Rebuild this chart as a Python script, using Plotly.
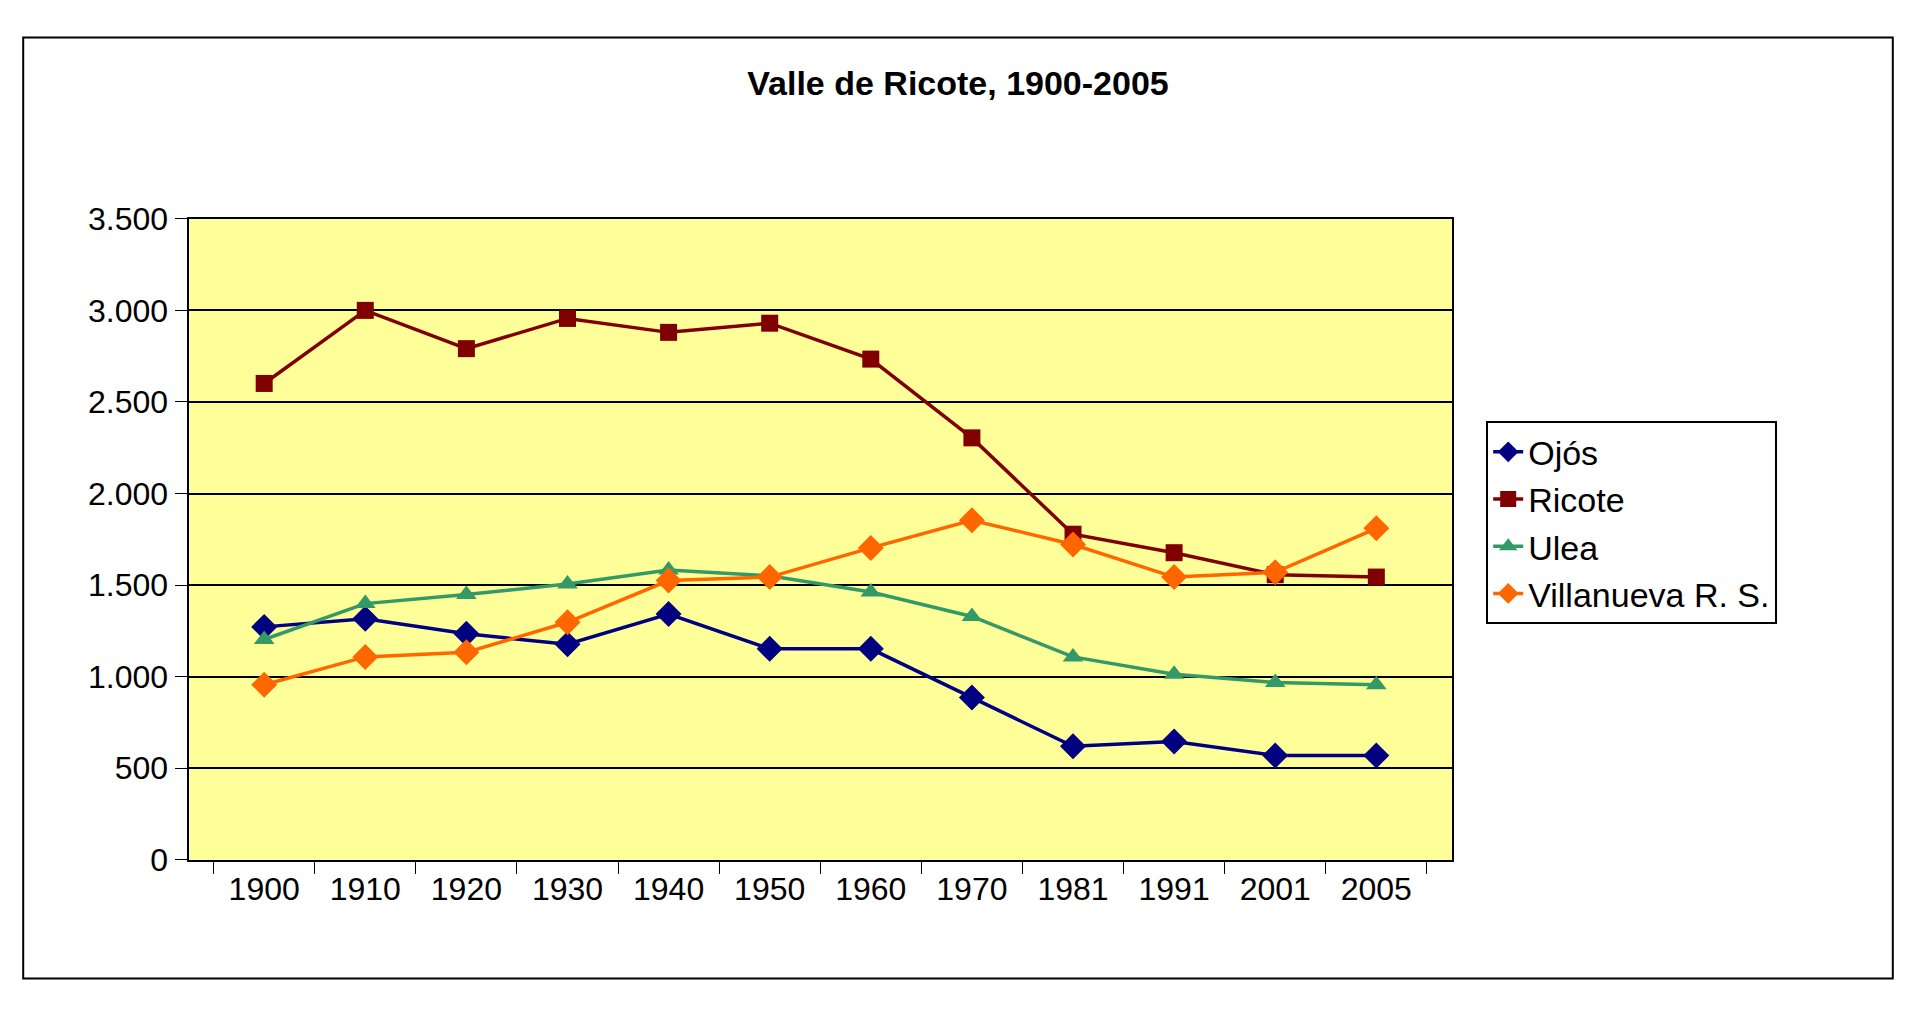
import plotly.graph_objects as go

years = ["1900", "1910", "1920", "1930", "1940", "1950", "1960", "1970", "1981", "1991", "2001", "2005"]
ojos = [1272, 1316, 1234, 1177, 1342, 1152, 1152, 886, 620, 646, 570, 570]
ricote = [2601, 3000, 2791, 2956, 2880, 2930, 2734, 2304, 1778, 1677, 1557, 1544]
ulea = [1203, 1399, 1449, 1506, 1582, 1551, 1462, 1329, 1108, 1013, 968, 956]
villanueva = [956, 1108, 1133, 1297, 1525, 1544, 1703, 1854, 1722, 1544, 1570, 1810]

series = [
    ("Ojós", ojos, "#000080", "diamond", 20),
    ("Ricote", ricote, "#800000", "square", 17),
    ("Ulea", ulea, "#339966", "triangle-up", 18),
    ("Villanueva R. S.", villanueva, "#FF6600", "diamond", 20),
]

fig = go.Figure()
for name, vals, color, sym, size in series:
    fig.add_trace(go.Scatter(
        x=years, y=vals, name=name, mode="lines+markers",
        line=dict(color=color, width=3.5),
        marker=dict(symbol=sym, size=size, color=color),
    ))

W, H = 1900, 1000
fig.update_layout(
    width=W, height=H,
    margin=dict(l=0, r=0, t=0, b=0),
    paper_bgcolor="white", plot_bgcolor="#FFFF99",
    font=dict(family="Liberation Sans, Arial", size=32, color="black"),
    separators=",.",
    title=dict(text="<b>Valle de Ricote, 1900-2005</b>", x=0.5, xanchor="center",
               y=1 - 75 / H, yanchor="middle", font=dict(size=34)),
    xaxis=dict(domain=[0.095, 0.760], type="category", tickson="boundaries",
               ticks="outside", ticklen=12, tickcolor="black", showgrid=False,
               showline=True, linecolor="black", linewidth=2, mirror=True),
    yaxis=dict(domain=[0.135, 0.80], range=[0, 3500], dtick=500, tickformat=",d",
               ticks="outside", ticklen=12, tickcolor="black",
               showgrid=True, gridcolor="black", gridwidth=2,
               showline=True, linecolor="black", linewidth=2, mirror=True, zeroline=False),
    legend=dict(x=0.778, y=1 - 410 / H, xanchor="left", yanchor="top",
                bordercolor="black", borderwidth=2, bgcolor="white",
                font=dict(size=34), tracegroupgap=6),
    shapes=[dict(type="rect", xref="paper", yref="paper",
                 x0=0.008, x1=0.992, y0=0.012, y1=0.988,
                 line=dict(color="black", width=2))],
)

fig.write_html("out.html")
